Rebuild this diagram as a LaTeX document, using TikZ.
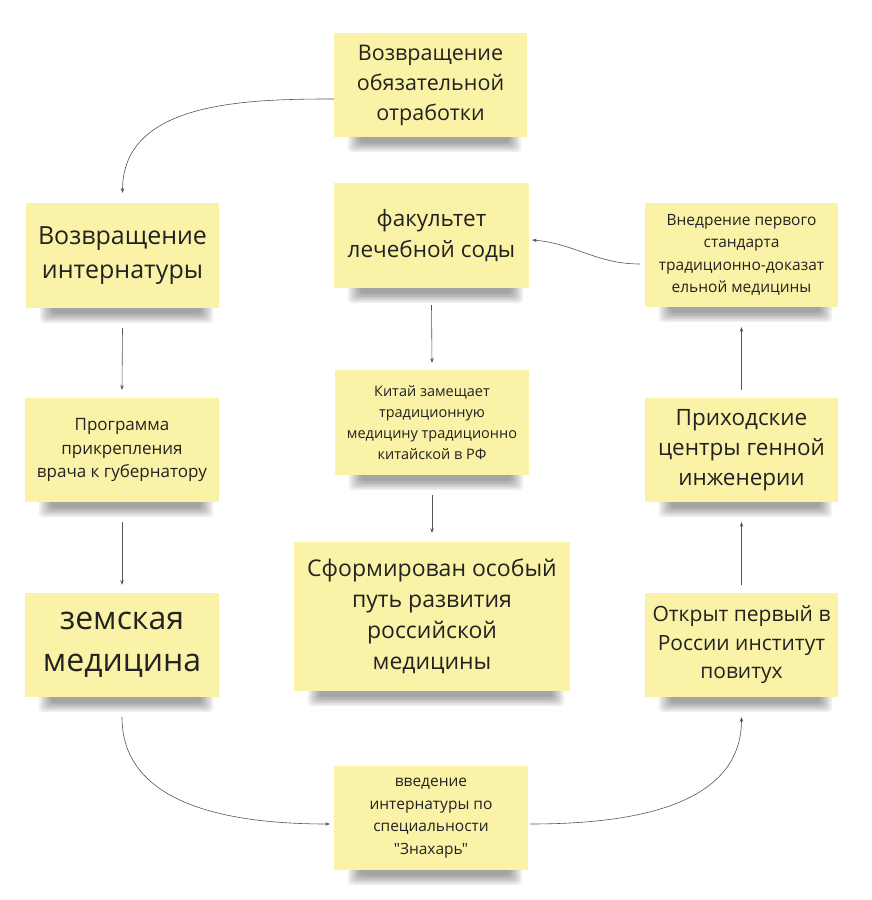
\documentclass[tikz,border=0pt]{standalone}
\usepackage{fontspec}
\setmainfont{Open Sans}[Ligatures=TeXOff]
\usetikzlibrary{arrows.meta,backgrounds}
\definecolor{stickyY}{HTML}{FAF2A6}
\definecolor{txt}{HTML}{222222}
\definecolor{linec}{HTML}{555555}
\tikzset{
  sticky/.style={fill=stickyY, draw=none, align=center, inner sep=0pt,
    minimum width=193pt, minimum height=104pt, text=txt},
  conn/.style={draw=linec, line width=0.6pt, -{Stealth[length=4.5pt,width=3.5pt]}},
}
\newcommand{\fs}[2]{\fontsize{#1}{#2}\selectfont}
\begin{document}
\begin{tikzpicture}[x=1pt,y=1pt]
\useasboundingbox (0,0) rectangle (871,900);

\node[sticky, font=\fs{21.5}{30}] (b1) at (430.5,815) {Возвращение\\обязательной\\отработки};
\node[sticky, minimum height=105pt, font=\fs{25}{34}] (b2) at (122.5,644.5) {Возвращение\\интернатуры};
\node[sticky, minimum width=195pt, minimum height=105pt, font=\fs{22.5}{31}] (b3) at (431.5,664.5) {факультет\\лечебной соды};
\node[sticky, font=\fs{15.5}{22.5}] (b4) at (741.5,645) {Внедрение первого\\стандарта\\традиционно-доказат\\ельной медицины};
\node[sticky, minimum width=194pt, font=\fs{17}{23.5}] (b5) at (122,450) {Программа\\прикрепления\\врача к губернатору};
\node[sticky, minimum width=194pt, minimum height=105pt, font=\fs{14.5}{21}] (b6) at (432,477.5) {Китай замещает\\традиционную\\медицину традиционно\\китайской в РФ};
\node[sticky, font=\fs{22.5}{30}] (b7) at (741.5,450) {Приходские\\центры генной\\инженерии};
\node[sticky, minimum width=194pt, font=\fs{32}{42}] (b8) at (122,255) {\raisebox{-4pt}{\parbox{194pt}{\centering земская\\медицина}}};
\node[sticky, minimum width=276pt, minimum height=149pt, font=\fs{23}{31}] (b9) at (432,283.5) {Сформирован особый\\путь развития\\российской\\медицины};
\node[sticky, font=\fs{21}{28.5}] (b10) at (741.5,255) {Открыт первый в\\России институт\\повитух};
\node[sticky, minimum width=194pt, font=\fs{15.5}{22.5}] (b11) at (431,82) {введение\\интернатуры по\\специальности\\"Знахарь"};

\begin{scope}[on background layer]
\fill[white] (0,0) rectangle (871,900);
\foreach \n in {b1,b2,b3,b4,b5,b6,b7,b8,b9,b10,b11}{
  \foreach \k in {0,...,6}{
    \fill[black, opacity=0.06, rounded corners=4pt]
      ([xshift=14pt+\k*2pt, yshift=4pt]\n.south west) rectangle
      ([xshift=-6pt-\k*2pt, yshift=-15pt+\k*1.6pt]\n.south east);
  }
}
\end{scope}

\draw[conn] ([yshift=-14pt]b1.west) to[out=180,in=90] ([yshift=10pt]b2.north);
\draw[conn] ([yshift=-20pt]b2.south) -- ([yshift=8pt]b5.north);
\draw[conn] ([yshift=-20pt]b5.south) -- ([yshift=8pt]b8.north);
\draw[conn] ([yshift=-20pt]b8.south) to[out=270,in=180] ([xshift=-4pt,yshift=-6pt]b11.west);
\draw[conn] ([xshift=2pt,yshift=-6pt]b11.east) to[out=0,in=270] ([yshift=-20pt]b10.south);
\draw[conn] ([yshift=8pt]b10.north) -- ([yshift=-20pt]b7.south);
\draw[conn] ([yshift=8pt]b7.north) -- ([yshift=-20pt]b4.south);
\draw[conn] ([xshift=-5pt,yshift=-9pt]b4.west) to[out=180,in=-5] ([xshift=3pt,yshift=-4.5pt]b3.east);
\draw[conn] ([yshift=-17pt]b3.south) -- ([yshift=7pt]b6.north);
\draw[conn] ([yshift=-20pt]b6.south) -- ([yshift=9pt]b9.north);
\end{tikzpicture}
\end{document}
